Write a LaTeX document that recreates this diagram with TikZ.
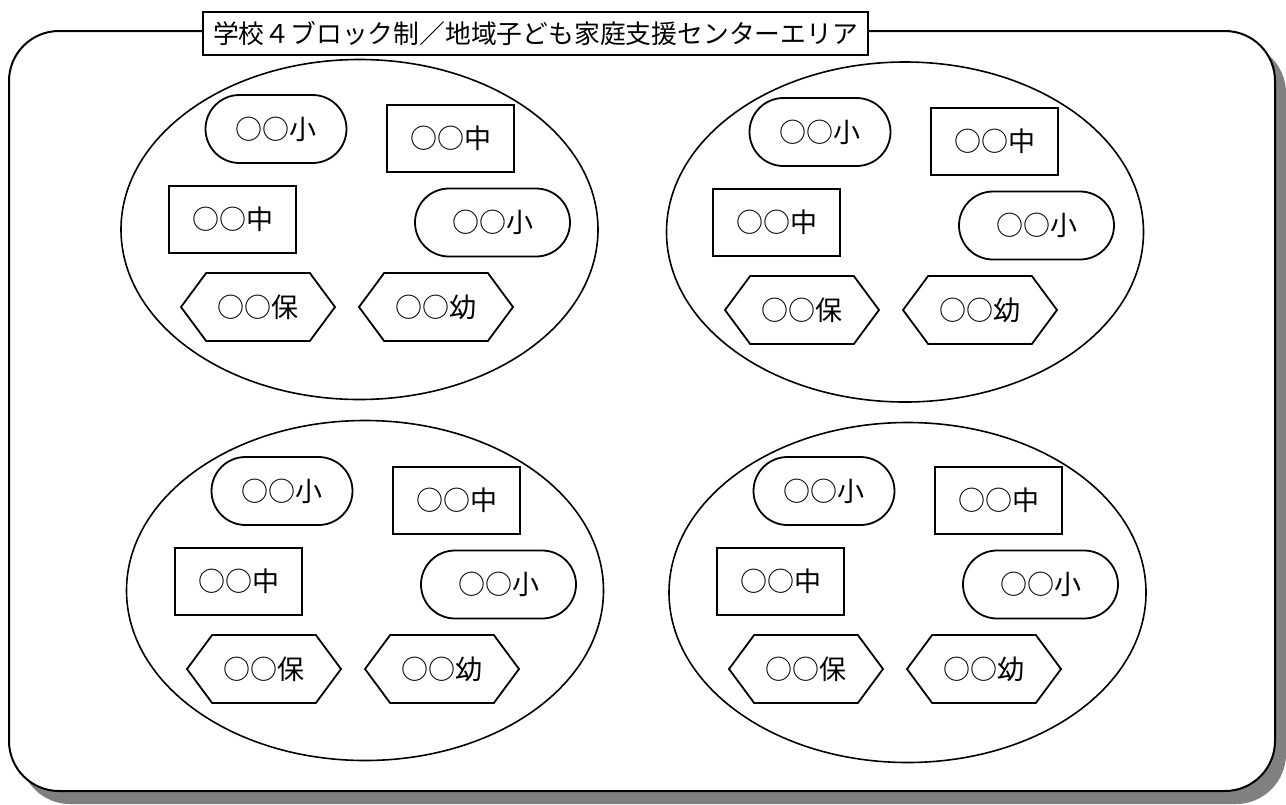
\documentclass[tikz,border=0pt]{standalone}
\usepackage{fontspec}
\setmainfont{Noto Sans CJK JP}
\usetikzlibrary{shapes.misc,shapes.symbols}

\begin{document}
\begin{tikzpicture}[x=0.5pt,y=-0.5pt,
                    every node/.style={font=\fontsize{13.5}{15}\selectfont,inner sep=0pt},
                    sho/.style={draw,line width=0.9pt,rounded rectangle,minimum width=70.5pt,minimum height=34pt},
                    chu/.style={draw,line width=0.9pt,rectangle,minimum width=63.5pt,minimum height=33.5pt},
                    en/.style={draw,line width=0.9pt,signal,signal to=east and west,signal pointer angle=107,minimum width=77pt,minimum height=34pt}]
                      \useasboundingbox (0,0) rectangle (1286,804);
                      \fill[gray,rounded corners=25pt] (20,43) rectangle (1286,804);
                      \draw[line width=1pt,fill=white,rounded corners=25pt] (9,31) rectangle (1275,791);
                      \node[draw,fill=white,line width=0.9pt,minimum width=332.5pt,minimum height=21.5pt,font=\fontsize{12.9}{14}\selectfont] (title) at (535.5,33.5) {学校４ブロック制／地域子ども家庭支援センターエリア};
                      \draw[line width=0.8pt] (359.5,229.5) ellipse [x radius=238.5, y radius=170];
                      \draw[line width=0.8pt] (905,232) ellipse [x radius=238.5, y radius=170];
                      \draw[line width=0.8pt] (365,590.5) ellipse [x radius=238.5, y radius=170];
                      \draw[line width=0.8pt] (907.5,592.5) ellipse [x radius=238.5, y radius=170];
                      \foreach \g/\gx/\gy in {a/0/0,b/544/3,c/6/362,d/548/362}{
                        \begin{scope}[shift={(\gx,\gy)}]
                          \node[sho] (sho1-\g) at (276,129) {○○小};
                          \node[chu] (chu1-\g) at (450.5,138.5) {○○中};
                          \node[chu] (chu2-\g) at (232.5,219.5) {○○中};
                          \node[sho,minimum width=77.5pt] (sho2-\g) at (492.5,222.5) {○○小};
                          \node[en] (ho-\g) at (258,307) {○○保};
                          \node[en] (yo-\g) at (436,307) {○○幼};
                        \end{scope}
                      }
                  \end{tikzpicture}
\end{document}
